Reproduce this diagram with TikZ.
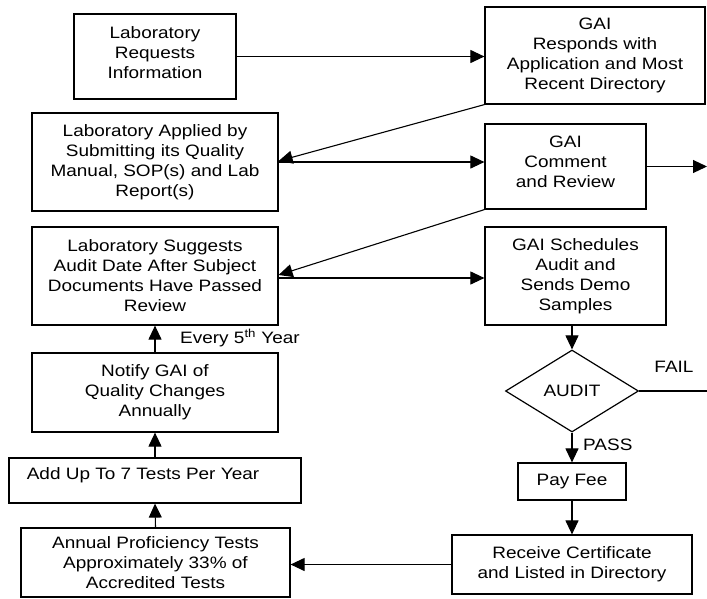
\documentclass[tikz,border=0pt]{standalone}
\usepackage{fontspec}
\setmainfont{Liberation Sans}[FakeStretch=1.15]
\usetikzlibrary{arrows.meta,shapes.geometric}
\begin{document}
\begin{tikzpicture}[x=1pt,y=-1pt,
  txt/.style={font=\fontsize{16.5}{20}\selectfont},
  box/.style={draw,line width=1.2pt,align=center,inner sep=0pt,txt},
  conn/.style={line width=1.1pt,-{Triangle[length=14pt,width=13pt]}},
  plain/.style={line width=1.1pt},
  lbl/.style={txt,inner sep=0pt}]
\useasboundingbox (0,0) rectangle (707,598);

\node[box,minimum width=162pt,minimum height=85pt,
      label={[lbl,align=center,yshift=4pt]center:Laboratory\\Requests\\Information}] (req) at (155,56.5) {};
\node[box,minimum width=220pt,minimum height=97pt] (resp) at (595,55.5) {GAI\\Responds with\\Application and Most\\Recent Directory};
\node[box,minimum width=246pt,minimum height=98pt] (app) at (155,162) {Laboratory Applied by\\Submitting its Quality\\Manual, SOP(s) and Lab\\Report(s)};
\node[box,minimum width=161pt,minimum height=85pt,
      label={[lbl,align=center,yshift=5pt]center:GAI\\Comment\\and Review}] (comm) at (565.5,166.5) {};
\node[box,minimum width=246pt,minimum height=98pt] (sugg) at (155,276) {Laboratory Suggests\\Audit Date After Subject\\Documents Have Passed\\Review};
\node[box,minimum width=181pt,minimum height=98pt] (sched) at (575.5,276) {GAI Schedules\\Audit and\\Sends Demo\\Samples};
\node[box,minimum width=246pt,minimum height=79pt] (notify) at (155,392.5) {Notify GAI of\\Quality Changes\\Annually};
\node[box,minimum width=292pt,minimum height=45pt,
      label={[lbl,xshift=-12pt,yshift=5pt]center:Add Up To 7 Tests Per Year}] (addup) at (155,480.5) {};
\node[box,minimum width=269pt,minimum height=69pt] (annual) at (155.5,562.5) {Annual Proficiency Tests\\Approximately 33\% of\\Accredited Tests};
\node[box,shape=diamond,aspect=1.62,minimum width=133pt,minimum height=82pt] (audit) at (572,391) {AUDIT};
\node[box,minimum width=108pt,minimum height=37pt] (pay) at (572,481.5) {Pay Fee};
\node[box,minimum width=240pt,minimum height=59pt] (recv) at (572,564.5) {Receive Certificate\\and Listed in Directory};

\coordinate (cR) at (707,166.5);
\coordinate (fR) at (707,391);

\draw[conn] (req.east) -- (req.east -| resp.west);
\draw[conn] (resp.south west) -- ([yshift=1pt]app.east);
\draw[conn] (app.east) -- (app.east -| comm.west);
\draw[conn] (comm.east) -- (cR);
\draw[conn] (comm.south west) -- ([yshift=1pt]sugg.east);
\draw[conn] ([yshift=-2pt]sugg.east) -- ([yshift=-2pt]sugg.east -| sched.west);
\draw[conn] (audit.north |- sched.south) -- (audit.north);
\draw[plain] (audit.east) -- (fR);
\draw[conn] (audit.south) -- (pay.north);
\draw[conn] (pay.south) -- (recv.north);
\draw[conn] (recv.west) -- (recv.west -| annual.east);
\draw[conn] (annual.north) -- (addup.south);
\draw[conn] (addup.north) -- (notify.south);
\draw[conn] (notify.north) -- (sugg.south);

\node[lbl,anchor=west] (every) at (180,338) {Every 5\textsuperscript{th} Year};
\node[lbl] (fail) at (674,367) {FAIL};
\node[lbl,anchor=west] (pass) at (583,445) {PASS};
\end{tikzpicture}
\end{document}
